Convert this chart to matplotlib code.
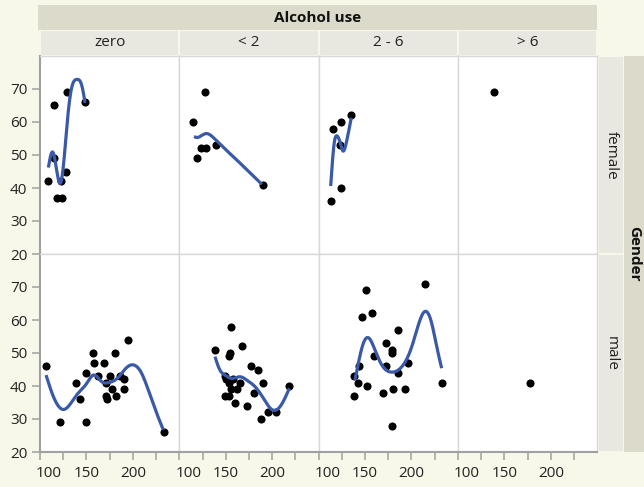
import numpy as np
import matplotlib
matplotlib.use("Agg")
import matplotlib.pyplot as plt
from matplotlib.patches import Rectangle
import matplotlib.transforms as mtransforms

# Alcohol use levels (columns) and gender (rows)
levels = ["zero", "< 2", "2 - 6", "> 6"]
genders = ["female", "male"]

# female, per alcohol level
female_zero_x = [109, 115, 115, 118, 124, 123, 128, 129, 148]
female_zero_y = [42, 65, 49, 37, 37, 42, 45, 69, 66]
female_lt2_x = [115, 119, 123, 129, 128, 139, 190]
female_lt2_y = [60, 49, 52, 52, 69, 53, 41]
female_2to6_x = [113, 116, 123, 124, 124, 135]
female_2to6_y = [36, 58, 53, 40, 60, 62]
female_gt6_x = [139]
female_gt6_y = [69]

# male, per alcohol level
male_zero_x = [106, 122, 150, 139, 143, 150, 157, 158, 162, 169, 171,
               171, 172, 175, 178, 182, 181, 186, 190, 190, 195, 233]
male_zero_y = [46, 29, 29, 41, 36, 44, 50, 47, 43, 47, 41,
               37, 36, 43, 39, 37, 50, 43, 42, 39, 54, 26]
male_lt2_x = [138, 156, 155, 154, 168, 177, 185, 190, 180, 149, 150, 153,
              158, 165, 156, 162, 149, 154, 160, 173, 188, 196, 204, 218]
male_lt2_y = [51, 58, 50, 49, 52, 46, 45, 41, 38, 43, 42, 41,
              42, 41, 39, 39, 37, 37, 35, 34, 30, 32, 32, 40]
male_2to6_x = [215, 151, 147, 158, 185, 173, 179, 179, 160, 144, 173,
               196, 186, 138, 142, 152, 138, 169, 180, 193, 233, 179]
male_2to6_y = [71, 69, 61, 62, 57, 53, 51, 50, 49, 46, 46,
               47, 44, 43, 41, 40, 37, 38, 39, 39, 41, 28]
male_gt6_x = [177]
male_gt6_y = [41]

# smoother fit, sampled along each curve
fit_female_zero_x = [109, 113.6, 122.3, 127, 130.5, 134.1, 139.5, 145.6, 148.5]
fit_female_zero_y = [46.2, 50.9, 41.6, 52.2, 63.3, 70.4, 72.9, 70.4, 65.8]
fit_female_lt2_x = [115.8, 119, 124, 129.5, 136.6, 146, 160, 175, 189]
fit_female_lt2_y = [55.6, 55.3, 55.9, 56.5, 55.3, 52.7, 49.0, 44.9, 41.1]
fit_female_2to6_x = [113, 114.4, 116.6, 119.8, 123.8, 126.3, 129.8, 133.5, 135.2]
fit_female_2to6_y = [40.6, 46.2, 53.2, 55.8, 53.2, 51.2, 53.7, 58.8, 61.3]
fit_male_zero_x = [106.5, 114.4, 125.8, 139.5, 150.3, 157.4, 166.4, 173.6,
                   184.3, 192.6, 200.5, 209.5, 216.6, 225.7, 232.8]
fit_male_zero_y = [43.3, 36.8, 32.9, 37.3, 40.8, 43.3, 41.3, 41.0,
                   42.6, 45.4, 46.4, 43.8, 38.8, 31.7, 26.7]
fit_male_lt2_x = [138.4, 143.8, 149.2, 156.4, 165.4, 172.6, 181.5, 190.5,
                  199.5, 204.1, 210.3, 218.5]
fit_male_lt2_y = [48.9, 44.8, 43.3, 42.3, 42.8, 41.8, 39.8, 36.3,
                  32.9, 32.7, 34.5, 39.3]
fit_male_2to6_x = [139.2, 142.8, 148.1, 154.3, 160.7, 168, 178.7, 189.5,
                   200.3, 209.2, 214.5, 221.8, 227.2, 232.5]
fit_male_2to6_y = [41.8, 46.9, 52.9, 54.5, 50.9, 46.4, 44.2, 45.8,
                   51.9, 60.0, 62.6, 59.0, 51.9, 45.4]

points = {
    ("female", 0): (female_zero_x, female_zero_y),
    ("female", 1): (female_lt2_x, female_lt2_y),
    ("female", 2): (female_2to6_x, female_2to6_y),
    ("female", 3): (female_gt6_x, female_gt6_y),
    ("male", 0): (male_zero_x, male_zero_y),
    ("male", 1): (male_lt2_x, male_lt2_y),
    ("male", 2): (male_2to6_x, male_2to6_y),
    ("male", 3): (male_gt6_x, male_gt6_y),
}
fits = {
    ("female", 0): (fit_female_zero_x, fit_female_zero_y),
    ("female", 1): (fit_female_lt2_x, fit_female_lt2_y),
    ("female", 2): (fit_female_2to6_x, fit_female_2to6_y),
    ("male", 0): (fit_male_zero_x, fit_male_zero_y),
    ("male", 1): (fit_male_lt2_x, fit_male_lt2_y),
    ("male", 2): (fit_male_2to6_x, fit_male_2to6_y),
}


def natural_spline(xk, yk, n=300):
    """Smooth curve through the sampled fit values (natural cubic spline)."""
    xk = np.asarray(xk, float)
    yk = np.asarray(yk, float)
    k = len(xk)
    h = np.diff(xk)
    A = np.zeros((k, k))
    b = np.zeros(k)
    A[0, 0] = A[-1, -1] = 1
    for i in range(1, k - 1):
        A[i, i - 1] = h[i - 1]
        A[i, i] = 2 * (h[i - 1] + h[i])
        A[i, i + 1] = h[i]
        b[i] = 3 * ((yk[i + 1] - yk[i]) / h[i] - (yk[i] - yk[i - 1]) / h[i - 1])
    c = np.linalg.solve(A, b)
    bb = (yk[1:] - yk[:-1]) / h - h * (2 * c[:-1] + c[1:]) / 3
    d = (c[1:] - c[:-1]) / (3 * h)
    xs = np.linspace(xk[0], xk[-1], n)
    idx = np.clip(np.searchsorted(xk, xs) - 1, 0, k - 2)
    dx = xs - xk[idx]
    ys = yk[idx] + bb[idx] * dx + c[idx] * dx ** 2 + d[idx] * dx ** 3
    return xs, ys


W, H = 644, 487
BG = "#f8f8ea"
STRIP_DARK = "#dcdacb"
STRIP_LIGHT = "#e8e8e0"
AXIS_GREY = "#a0a0a0"
FRAME_GREY = "#d8d8d8"
CURVE = "#3a5aa8"


def fx(px):
    return px / W


def fy(py):
    return 1 - py / H


plt.rcParams["font.family"] = ["Open Sans", "DejaVu Sans"]
plt.rcParams["font.size"] = 11

fig = plt.figure(figsize=(W / 100, H / 100), dpi=100, facecolor=BG)

col_left = [40, 179.3, 318.6, 458]
col_w = 139.3
row_top = [56, 254]
row_h = 198

for r, g in enumerate(genders):
    for c in range(4):
        ax = fig.add_axes([fx(col_left[c]), fy(row_top[r] + row_h), col_w / W, row_h / H])
        ax.set_facecolor("white")
        ax.set_xlim(100, 250)
        ax.set_ylim(20, 80)
        for sp in ax.spines.values():
            sp.set_color(FRAME_GREY)
            sp.set_linewidth(1)

        x, y = points[(g, c)]
        ax.scatter(x, y, s=34, color="black", linewidths=0, zorder=3)
        if (g, c) in fits:
            xs, ys = natural_spline(*fits[(g, c)])
            ax.plot(xs, ys, color=CURVE, lw=2.3, zorder=4, solid_capstyle="butt")

        ax.tick_params(colors=AXIS_GREY, labelcolor="#222222", labelsize=11,
                       length=6, width=1.1)
        if c == 0:
            ax.spines["left"].set_color(AXIS_GREY)
            ax.spines["left"].set_linewidth(1.5)
            ax.set_yticks([20, 30, 40, 50, 60, 70])
            ax.tick_params(axis="y", pad=3)
        else:
            ax.set_yticks([])
        if r == 1:
            ax.spines["bottom"].set_color(AXIS_GREY)
            ax.spines["bottom"].set_linewidth(1.5)
            ax.set_xticks([100, 125, 150, 175, 200, 225])
            ax.set_xticklabels(["100", "", "150", "", "200", ""])
            ax.tick_params(axis="x", pad=4)
            first = ax.get_xticklabels()[0]
            first.set_transform(first.get_transform()
                                + mtransforms.ScaledTranslation(9 / 100, 0, fig.dpi_scale_trans))
        else:
            ax.set_xticks([])

# column header strips
fig.add_artist(Rectangle((fx(38), fy(30)), (597.3 - 38) / W, 25 / H,
                         transform=fig.transFigure, facecolor=STRIP_DARK, edgecolor="none"))
fig.text(fx(318), fy(17.5), "Alcohol use", ha="center", va="center",
         weight="bold", color="#111111")
for c, lab in enumerate(levels):
    fig.add_artist(Rectangle((fx(col_left[c] + 1), fy(55)), (col_w - 2) / W, 24 / H,
                             transform=fig.transFigure, facecolor=STRIP_LIGHT,
                             edgecolor="none"))
    fig.text(fx(col_left[c] + col_w / 2), fy(43), lab, ha="center", va="center",
             color="#222222")

# row header strips
for r, g in enumerate(genders):
    fig.add_artist(Rectangle((fx(598.5), fy(row_top[r] + row_h - 1)), 24.5 / W, (row_h - 2) / H,
                             transform=fig.transFigure, facecolor=STRIP_LIGHT,
                             edgecolor="none"))
    fig.text(fx(611), fy(row_top[r] + row_h / 2), g, rotation=-90, ha="center",
             va="center", color="#222222")
fig.add_artist(Rectangle((fx(624), fy(452)), 20 / W, 396 / H,
                         transform=fig.transFigure, facecolor=STRIP_DARK, edgecolor="none"))
fig.text(fx(634.5), fy(254), "Gender", rotation=-90, ha="center", va="center",
         weight="bold", color="#111111")

fig.savefig("out.png", dpi=100, facecolor=BG)
